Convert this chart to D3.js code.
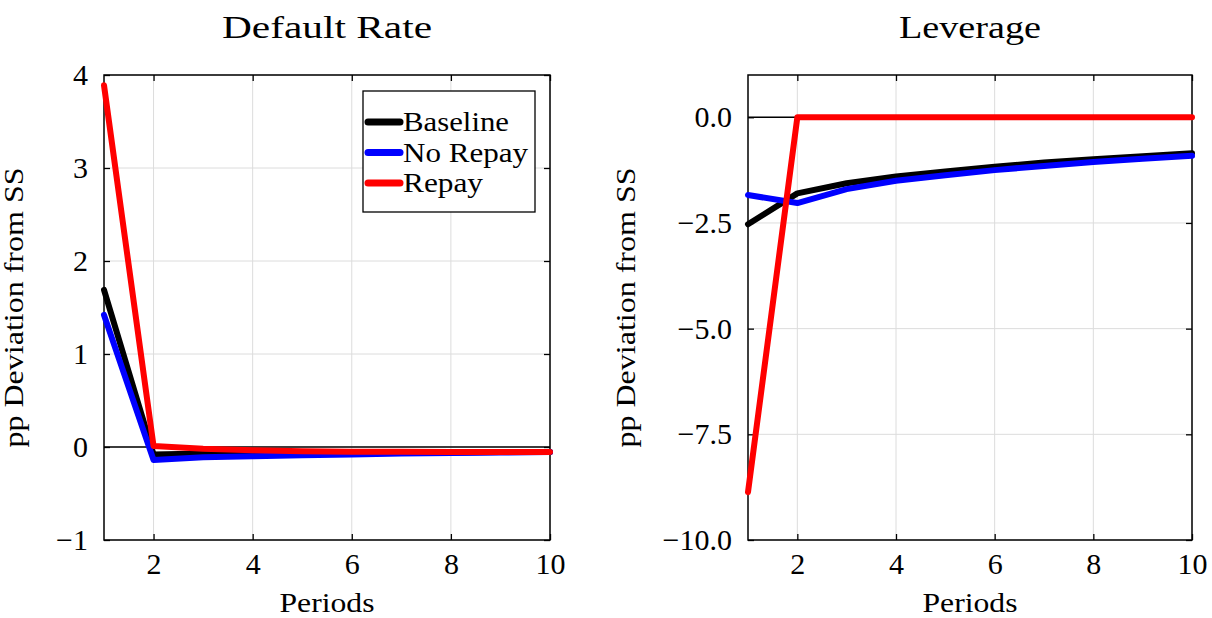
<!DOCTYPE html>
<html><head><meta charset="utf-8">
<script src="https://cdn.jsdelivr.net/npm/d3@7"></script>
<style>
body{margin:0;background:#fff;}
text{font-family:"Liberation Serif","DejaVu Serif",serif;fill:#000;}
</style></head>
<body><svg id="c" width="1212" height="618"></svg>
<script>
const periods = [1,2,3,4,5,6,7,8,9,10];
const seriesNames = ["Baseline","No Repay","Repay"];
const seriesColors = ["#000000","#0000ff","#ff0000"];

// Default Rate (pp deviation from SS)
const defaultBaseline = [1.69,-0.08,-0.07,-0.07,-0.06,-0.06,-0.06,-0.06,-0.055,-0.055];
const defaultNoRepay  = [1.42,-0.14,-0.11,-0.10,-0.09,-0.08,-0.07,-0.065,-0.06,-0.055];
const defaultRepay    = [3.89,0.01,-0.02,-0.035,-0.045,-0.05,-0.05,-0.055,-0.055,-0.055];

// Leverage (pp deviation from SS)
const levBaseline = [-2.53,-1.80,-1.56,-1.40,-1.28,-1.17,-1.07,-0.99,-0.92,-0.85];
const levNoRepay  = [-1.84,-2.03,-1.70,-1.50,-1.37,-1.25,-1.15,-1.06,-0.98,-0.91];
const levRepay    = [-8.87,0,0,0,0,0,0,0,0,0];

const xTicks = [2,4,6,8,10];
const defaultYTicks = [-1,0,1,2,3,4];
const levYTicks = [0,-2.5,-5,-7.5,-10];

const svg = d3.select("#c");
const FONT = '"Liberation Serif","DejaVu Serif",serif';

function label(sel, size, len){
  sel.style("font-family",FONT).style("font-size",size+"px");
  if(len) sel.attr("textLength",len).attr("lengthAdjust","spacingAndGlyphs");
  return sel;
}

function panel(opt){
  const {left,right,top,bottom,ydom,yticks,yfmt,title,titleLen,series,legend,ylabelX} = opt;
  const x = d3.scaleLinear().domain([1,10]).range([left,right]);
  const y = d3.scaleLinear().domain(ydom).range([bottom,top]);
  const g = svg.append("g");
  // grid
  g.selectAll(".gx").data(xTicks).enter().append("line")
    .attr("x1",d=>x(d)).attr("x2",d=>x(d)).attr("y1",top).attr("y2",bottom)
    .attr("stroke","#dcdcdc").attr("stroke-width",1);
  g.selectAll(".gy").data(yticks).enter().append("line")
    .attr("x1",left).attr("x2",right).attr("y1",d=>y(d)).attr("y2",d=>y(d))
    .attr("stroke","#dcdcdc").attr("stroke-width",1);
  // zero line
  g.append("line").attr("x1",left).attr("x2",right).attr("y1",y(0)).attr("y2",y(0))
    .attr("stroke","#000").attr("stroke-width",1.3);
  // axes
  const ax = g.append("g").attr("transform",`translate(0,${bottom})`)
    .call(d3.axisBottom(x).tickValues(xTicks).tickSize(-6).tickPadding(13).tickFormat(d3.format("d")));
  const axT = g.append("g").attr("transform",`translate(0,${top})`)
    .call(d3.axisTop(x).tickValues(xTicks).tickSize(-6).tickFormat(""));
  const ay = g.append("g").attr("transform",`translate(${left},0)`)
    .call(d3.axisLeft(y).tickValues(yticks).tickSize(-6).tickPadding(16).tickFormat(yfmt));
  const ayR = g.append("g").attr("transform",`translate(${right},0)`)
    .call(d3.axisRight(y).tickValues(yticks).tickSize(-6).tickFormat(""));
  [ax,axT,ay,ayR].forEach(a=>{
    a.attr("font-family",null).attr("font-size",null);
    a.select(".domain").remove();
    a.selectAll(".tick line").attr("stroke","#000").attr("stroke-width",1.3);
    a.selectAll("text").style("font-family",FONT).style("font-size","30px").attr("fill","#000");
  });
  // frame
  g.append("rect").attr("x",left).attr("y",top).attr("width",right-left).attr("height",bottom-top)
    .attr("fill","none").attr("stroke","#000").attr("stroke-width",1.5);
  // lines
  const line = d3.line().x((d,i)=>x(periods[i])).y(d=>y(d));
  g.append("g").selectAll("path").data(series).enter().append("path")
    .attr("d",d=>line(d)).attr("fill","none")
    .attr("stroke",(d,i)=>seriesColors[i]).attr("stroke-width",6)
    .attr("stroke-linejoin","round").attr("stroke-linecap","round");
  // title
  label(svg.append("text").attr("x",(left+right)/2 - titleLen/2).attr("y",38)
    .text(title), 31, titleLen);
  // x label
  label(svg.append("text").attr("x",(left+right)/2 - 47.5).attr("y",612)
    .text("Periods"), 27, 95);
  // y label
  label(svg.append("text").attr("transform",`translate(${ylabelX},${(top+bottom)/2 + 140}) rotate(-90)`)
    .text("pp Deviation from SS"), 27, 280);
  if(legend){
    const lx=363, ly=91, lw=172, lh=121;
    const lg = svg.append("g");
    lg.append("rect").attr("x",lx).attr("y",ly).attr("width",lw).attr("height",lh)
      .attr("fill","#fff").attr("stroke","#000").attr("stroke-width",1.3);
    const lens=[106,125,80];
    seriesNames.forEach((n,i)=>{
      const cy = ly + 31 + i*30.5;
      lg.append("line").attr("x1",lx+5).attr("x2",lx+37).attr("y1",cy).attr("y2",cy)
        .attr("stroke",seriesColors[i]).attr("stroke-width",7).attr("stroke-linecap","round");
      label(lg.append("text").attr("x",lx+40).attr("y",cy+9).text(n), 27, lens[i]);
    });
  }
}

panel({left:104,right:550,top:75,bottom:540,ydom:[-1,4],yticks:defaultYTicks,
  yfmt:d=>d3.format("d")(d).replace("-","\u2212"),title:"Default Rate",titleLen:210,
  series:[defaultBaseline,defaultNoRepay,defaultRepay],legend:true,ylabelX:23});
panel({left:748,right:1192,top:75,bottom:540,ydom:[-10,1],yticks:levYTicks,
  yfmt:d=>d3.format(".1f")(d).replace("-","\u2212"),title:"Leverage",titleLen:142,
  series:[levBaseline,levNoRepay,levRepay],legend:false,ylabelX:635});
</script></body></html>
